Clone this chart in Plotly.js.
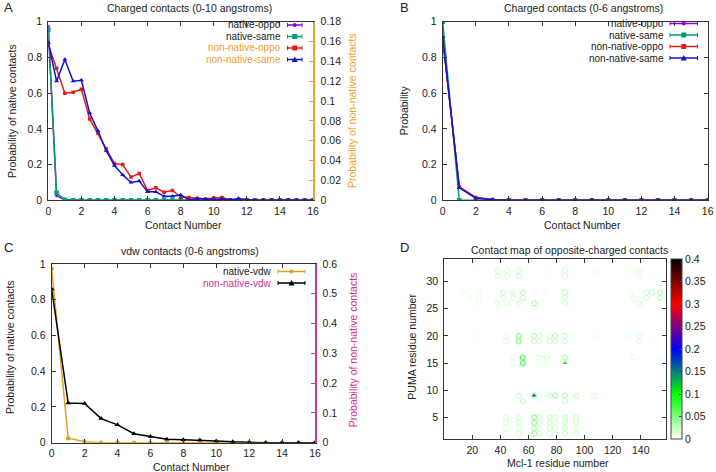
<!DOCTYPE html>
<html>
<head>
<meta charset="utf-8">
<script src="https://cdn.plot.ly/plotly-3.0.1.min.js"></script>
<style>html,body{margin:0;padding:0;background:#fff;}#chart{width:716px;height:472px;}</style>
</head>
<body>
<div id="chart"></div>
<script>
// ---------- Panel A: charged contacts (0-10 angstroms) ----------
const contactA = [0,0.5,1,1.5,2,2.5,3,3.5,4,4.5,5,5.5,6,6.5,7,7.5,8,8.5,9,9.5,10,10.5,11,11.5,12,12.5,13,13.5,14,14.5,15,15.5,16];
const aNativeOppo = [0.975,0.025,0.003,0,0,0,0,0,0,0,0,0,0,0,0,0,0,0,0,0,0,0,0,0,0,0,0,0,0,0,0,0,0];
const aNativeSame = [0.955,0.042,0.003,0,0,0,0,0,0,0,0,0,0,0,0,0,0,0,0,0,0,0,0,0,0,0,0,0,0,0,0,0,0];
const aNonNativeOppo = [0.157,0.133,0.108,0.109,0.112,0.082,0.0675,0.052,0.037,0.036,0.0234,0.027,0.0099,0.0126,0.0081,0.0099,0.0036,0.0027,0.0018,0.0014,0.0022,0.0027,0.0005,0.0009,0.0004,0,0,0,0,0,0,0,0];
const aNonNativeSame = [0.159,0.120,0.142,0.120,0.121,0.088,0.070,0.050,0.035,0.0256,0.018,0.0194,0.0085,0.0085,0.004,0.004,0.0054,0.0004,0.0018,0.0009,0.0007,0.0014,0.0004,0.0018,0.0005,0,0,0,0,0,0,0,0];

// ---------- Panel B: charged contacts (0-6 angstroms) ----------
const contactB = [0,1,2,3,4,5,6,7,8,9,10,11,12,13,14,15,16];
const bNativeOppo = [0.91,0.075,0.015,0.005,0,0,0,0,0,0,0,0,0,0,0,0,0];
const bNativeSame = [1.0,0,0,0,0,0,0,0,0,0,0,0,0,0,0,0,0];
const bNonNativeOppo = [0.905,0.075,0.015,0.004,0,0,0,0,0,0,0,0,0,0,0,0,0];
const bNonNativeSame = [0.915,0.07,0.012,0.003,0,0,0,0,0,0,0,0,0,0,0,0,0];

// ---------- Panel C: vdw contacts (0-6 angstroms) ----------
const contactC = [0,1,2,3,4,5,6,7,8,9,10,11,12,13,14,15,16];
const cNativeVdw = [0.975,0.025,0.005,0,0,0,0,0,0,0,0,0,0,0,0,0,0];
const cNonNativeVdw = [0.516,0.133,0.132,0.081,0.06,0.03,0.021,0.012,0.010,0.009,0.006,0.003,0.001,0,0,0,0];

// ---------- Panel D: contact map of opposite-charged contacts ----------
const mapMcl1 = [24,38,45,53,75,86,107,132,137,139,
  38,45,53,72,86,139,
  13,25,42,49,56,64,72,86,133,144,148,154,
  18,25,42,49,56,86,135,144,154,
  25,38,45,53,64,86,139,
  24,44,53,64,68,75,79,86,106,130,139,
  44,53,64,68,75,79,86,139,
  49,56,67,73,86,135,154,
  49,56,67,73,154,
  53,64,68,75,79,86,94,106,108,
  49,56,68,86,
  44,53,64,68,75,79,86,94,
  44,53,64,68,75,79,86,94,
  44,53,64,68,75,79,86,94,
  44,53,64,68,75,79,86,94];
const mapPuma = [32,32,32,32,32,32,32,32,32,32,
  31,31,31,31,31,31,
  28,28,28,28,28,28,28,28,28,28,28,28,
  27,27,27,27,27,27,27,27,27,
  26,26,26,26,26,26,26,
  20,20,20,20,20,20,20,20,20,20,20,
  19,19,19,19,19,19,19,19,
  16,16,16,16,16,16,16,
  15,15,15,15,15,
  9,9,9,9,9,9,9,9,9,
  8,8,8,8,
  5,5,5,5,5,5,5,5,
  4,4,4,4,4,4,4,4,
  3,3,3,3,3,3,3,3,
  2,2,2,2,2,2,2,2];
const mapProb = [0.005,0.015,0.015,0.015,0.005,0.015,0.008,0.005,0.01,0.012,
  0.015,0.015,0.02,0.005,0.015,0.012,
  0.005,0.01,0.02,0.02,0.025,0.005,0.005,0.02,0.01,0.015,0.02,0.025,
  0.008,0.01,0.015,0.015,0.02,0.02,0.01,0.015,0.025,
  0.008,0.012,0.015,0.015,0.03,0.015,0.015,
  0.005,0.01,0.045,0.03,0.015,0.015,0.03,0.02,0.008,0.008,0.015,
  0.01,0.045,0.02,0.015,0.015,0.02,0.015,0.01,
  0.01,0.07,0.015,0.015,0.03,0.01,0.008,
  0.01,0.07,0.01,0.01,0.005,
  0.015,0.03,0.015,0.02,0.04,0.03,0.02,0.01,0.01,
  0.008,0.02,0.01,0.015,
  0.01,0.015,0.045,0.015,0.015,0.015,0.02,0.015,
  0.01,0.015,0.045,0.015,0.015,0.015,0.02,0.015,
  0.01,0.015,0.035,0.015,0.015,0.015,0.02,0.015,
  0.01,0.015,0.035,0.015,0.015,0.015,0.02,0.015];
const triMcl1 = [86,64];
const triPuma = [15,9];
const triProb = [0.1,0.17];

const W = 716, H = 472;
const px = x => x / W;
const py = y => 1 - y / H;

const FONT = 'Liberation Sans, Arial, sans-serif';
const FS = 10.5;   // titles and tick labels
const LFS = 10;    // legend text
const TXT = '#222';
const C_PURPLE = '#9400d3', C_TEAL = '#009e73', C_RED = '#e41a1c', C_BLUE = '#1212cc';
const C_ORANGE = '#f4a030', C_GOLD = '#e0a020', C_MAG = '#d0358f';

function line(x, y, xa, ya, color, symbol, msize) {
  return {x, y, xaxis: xa, yaxis: ya, type: 'scatter', mode: 'lines+markers',
    line: {color, width: 1.5}, marker: {color, symbol, size: msize}, hoverinfo: 'x+y'};
}

const traces = [
  line(contactA, aNativeOppo, 'x', 'y', C_PURPLE, 'circle', 3),
  line(contactA, aNativeSame, 'x', 'y', C_TEAL, 'square', 4.5),
  line(contactA, aNonNativeOppo, 'x', 'y2', C_RED, 'square', 3.5),
  line(contactA, aNonNativeSame, 'x', 'y2', C_BLUE, 'triangle-up', 4.5),
  line(contactB, bNativeOppo, 'x2', 'y3', C_PURPLE, 'circle', 3),
  line(contactB, bNativeSame, 'x2', 'y3', C_TEAL, 'square', 4.5),
  line(contactB, bNonNativeOppo, 'x2', 'y3', C_RED, 'square', 3.5),
  line(contactB, bNonNativeSame, 'x2', 'y3', C_BLUE, 'triangle-up', 4.5),
  line(contactC, cNativeVdw, 'x3', 'y4', C_GOLD, 'circle', 4.5),
  line(contactC, cNonNativeVdw, 'x3', 'y5', '#000000', 'triangle-up', 5),
  {x: mapMcl1, y: mapPuma, xaxis: 'x4', yaxis: 'y6', type: 'scatter', mode: 'markers',
   marker: {symbol: 'circle-open', size: 5, color: mapProb, coloraxis: 'coloraxis', line: {width: 1.2}}},
  {x: triMcl1, y: triPuma, xaxis: 'x4', yaxis: 'y6', type: 'scatter', mode: 'markers',
   marker: {symbol: 'triangle-up', size: 4, color: triProb, coloraxis: 'coloraxis'}}
];

const yA = [py(200.3), py(21.7)];
const yC = [py(442.7), py(264)];
const baseAx = {showgrid: false, zeroline: false, showline: true, linecolor: '#333', linewidth: 1,
  ticks: 'inside', ticklen: 4, tickcolor: '#333', tickfont: {family: FONT, size: FS, color: TXT}};

function ax(extra) { return Object.assign({}, baseAx, extra); }

const layout = {
  width: W, height: H, margin: {l: 0, r: 0, t: 0, b: 0},
  paper_bgcolor: '#fff', plot_bgcolor: '#fff', showlegend: false,
  font: {family: FONT, size: FS, color: TXT},
  xaxis: ax({domain: [px(48.3), px(313)], anchor: 'y', range: [0, 16], dtick: 2, mirror: 'ticks', ticklabelstandoff: 1}),
  yaxis: ax({domain: yA, anchor: 'x', range: [0, 1], dtick: 0.2, ticklabelstandoff: 3}),
  yaxis2: ax({overlaying: 'y', side: 'right', anchor: 'x', range: [0, 0.18], dtick: 0.02,
    linecolor: C_ORANGE, tickcolor: C_ORANGE, linewidth: 1.5, ticklabelstandoff: 4}),
  xaxis2: ax({domain: [px(442.7), px(707.7)], anchor: 'y3', range: [0, 16], dtick: 2, mirror: 'ticks', ticklabelstandoff: 1}),
  yaxis3: ax({domain: yA, anchor: 'x2', range: [0, 1], dtick: 0.2, mirror: 'ticks', ticklabelstandoff: 3}),
  xaxis3: ax({domain: [px(51.7), px(315)], anchor: 'y4', range: [0, 16], dtick: 2, mirror: 'ticks', ticklabelstandoff: 1}),
  yaxis4: ax({domain: yC, anchor: 'x3', range: [0, 1], dtick: 0.2, ticklabelstandoff: 3}),
  yaxis5: ax({overlaying: 'y4', side: 'right', anchor: 'x3', range: [0, 0.6], dtick: 0.1,
    linecolor: C_MAG, tickcolor: C_MAG, linewidth: 1.5, ticklabelstandoff: 4}),
  xaxis4: ax({domain: [px(444.3), px(666)], anchor: 'y6', range: [0, 158], tickvals: [20,40,60,80,100,120,140], mirror: 'ticks', ticklabelstandoff: 1}),
  yaxis6: ax({domain: [py(439.3), py(259.3)], anchor: 'x4', range: [0.95, 34.1], tickvals: [5,10,15,20,25,30], mirror: 'ticks', ticklabelstandoff: 3}),
  coloraxis: {cmin: 0, cmax: 0.4,
    colorscale: [[0, '#ffffff'], [0.25, '#00ff00'], [0.5, '#0000ff'], [0.75, '#ff0000'], [1, '#000000']],
    colorbar: {x: px(670.7), xanchor: 'left', xpad: 0, ypad: 0, thickness: 11, thicknessmode: 'pixels',
      len: 180 / H, lenmode: 'fraction', y: py(349.3), yanchor: 'middle',
      tickvals: [0,0.05,0.1,0.15,0.2,0.25,0.3,0.35,0.4], ticks: 'inside', ticklen: 3, tickcolor: '#444',
      outlinewidth: 1, outlinecolor: '#444', tickfont: {family: FONT, size: FS, color: TXT}}},
  annotations: [],
  shapes: []
};

function txt(x, y, text, opts) {
  layout.annotations.push(Object.assign({xref: 'paper', yref: 'paper', x: px(x), y: py(y), text,
    showarrow: false, xanchor: 'center', yanchor: 'middle', font: {family: FONT, size: FS, color: TXT}}, opts || {}));
}
// panel letters
txt(2, 8, 'A', {xanchor: 'left', font: {family: FONT, size: 13, color: TXT}});
txt(398, 8, 'B', {xanchor: 'left', font: {family: FONT, size: 13, color: TXT}});
txt(2, 247, 'C', {xanchor: 'left', font: {family: FONT, size: 13, color: TXT}});
txt(398, 247, 'D', {xanchor: 'left', font: {family: FONT, size: 13, color: TXT}});
// panel titles
txt(189, 7.5, 'Charged contacts (0-10 angstroms)');
txt(583, 7.5, 'Charged contacts (0-6 angstroms)');
txt(189.5, 250.5, 'vdw contacts (0-6 angstroms)');
txt(569.5, 250, 'Contact map of opposite-charged contacts');
// axis titles
txt(183.8, 225, 'Contact Number');
txt(582, 225, 'Contact Number');
txt(191, 467, 'Contact Number');
txt(558, 463, 'Mcl-1 residue number');
txt(12, 111, 'Probability of native contacts', {textangle: -90});
txt(352, 111, 'Probability of non-native contacts', {textangle: -90, font: {family: FONT, size: FS, color: C_ORANGE}});
txt(404.3, 110, 'Probability', {textangle: -90});
txt(10, 347, 'Probability of native contacts', {textangle: -90});
txt(353.3, 350, 'Probability of non-native contacts', {textangle: -90, font: {family: FONT, size: FS, color: C_MAG}});
txt(411.7, 347, 'PUMA residue number', {textangle: -90});

// manual gnuplot-style legends (text right, sample to the right)
function legendEntry(textRight, x0, x1, y, label, textColor, color, symbol) {
  txt(textRight, y, label, {xanchor: 'right', font: {family: FONT, size: LFS, color: textColor}});
  const S = layout.shapes;
  const L = {color, width: 1.5};
  S.push({type: 'line', xref: 'paper', yref: 'paper', x0: px(x0), x1: px(x1), y0: py(y), y1: py(y), line: L});
  S.push({type: 'line', xref: 'paper', yref: 'paper', x0: px(x0), x1: px(x0), y0: py(y - 2), y1: py(y + 2), line: {color, width: 1}});
  S.push({type: 'line', xref: 'paper', yref: 'paper', x0: px(x1), x1: px(x1), y0: py(y - 2), y1: py(y + 2), line: {color, width: 1}});
  const m = (x0 + x1) / 2;
  if (symbol === 'square') {
    S.push({type: 'rect', xref: 'paper', yref: 'paper', x0: px(m - 2.5), x1: px(m + 2.5), y0: py(y + 2.5), y1: py(y - 2.5), fillcolor: color, line: {width: 0}});
  } else if (symbol === 'circle') {
    S.push({type: 'circle', xref: 'paper', yref: 'paper', x0: px(m - 2), x1: px(m + 2), y0: py(y + 2), y1: py(y - 2), fillcolor: color, line: {width: 0}});
  } else {
    S.push({type: 'path', xref: 'paper', yref: 'paper', path: `M ${px(m - 3)} ${py(y + 2.5)} L ${px(m + 3)} ${py(y + 2.5)} L ${px(m)} ${py(y - 3)} Z`, fillcolor: color, line: {width: 0}});
  }
}
legendEntry(283, 287.5, 302, 25, 'native-oppo', TXT, C_PURPLE, 'circle');
legendEntry(283, 287.5, 302, 36.5, 'native-same', TXT, C_TEAL, 'square');
legendEntry(283, 287.5, 302, 48, 'non-native-oppo', C_ORANGE, C_RED, 'square');
legendEntry(283, 287.5, 302, 59.5, 'non-native-same', C_ORANGE, C_BLUE, 'triangle');
legendEntry(666, 670, 697.5, 23.5, 'native-oppo', TXT, C_PURPLE, 'circle');
legendEntry(666, 670, 697.5, 35, 'native-same', TXT, C_TEAL, 'square');
legendEntry(666, 670, 697.5, 46.5, 'non-native-oppo', TXT, C_RED, 'square');
legendEntry(666, 670, 697.5, 58, 'non-native-same', TXT, C_BLUE, 'triangle');
legendEntry(274, 278, 305, 271.5, 'native-vdw', TXT, C_GOLD, 'circle');
legendEntry(274, 278, 305, 283, 'non-native-vdw', C_MAG, '#000000', 'triangle');

Plotly.newPlot('chart', traces, layout, {displayModeBar: false, staticPlot: true});
</script>
</body>
</html>
